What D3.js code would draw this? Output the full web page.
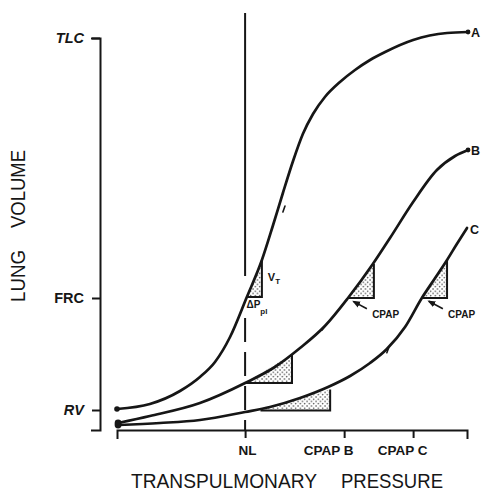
<!DOCTYPE html>
<html>
<head>
<meta charset="utf-8">
<script src="https://cdn.jsdelivr.net/npm/d3@7"></script>
<style>
  html, body { margin: 0; padding: 0; background: #fff; }
  svg { display: block; }
</style>
</head>
<body>
<div id="chart"></div>
<script>
// ---- data (pressure in arbitrary units, volume in arbitrary units, TLC = 98) ----
const pressureA = [0, 0.94, 1.8, 2.37, 2.8, 3.23, 3.71, 4.14, 4.46, 4.74, 5.03, 5.31, 5.6, 5.94, 6.37, 6.8, 7.23, 7.66, 8.46, 9.43, 10.03];
const volumeA   = [5.25, 6.5, 9.75, 13.25, 17, 23.25, 33.25, 42.5, 51.25, 59.25, 67.25, 74, 79, 83.25, 87, 90, 92.5, 94.5, 97.5, 99.25, 99.5];

const pressureB = [0.03, 0.94, 2.37, 3.66, 4.51, 5.23, 5.94, 6.6, 7.31, 7.8, 8.46, 9.14, 9.66, 10.03];
const volumeB   = [1.75, 3.5, 6.75, 11.75, 15.75, 20.5, 26, 33, 41.5, 48, 57, 65, 68.5, 70];

const pressureC = [0.03, 1.23, 2.37, 3.66, 4.37, 5.23, 6.03, 6.66, 7.23, 7.71, 8.23, 8.71, 9.09, 9.43, 9.71, 10.0];
const volumeC   = [1.25, 1.75, 2.5, 4.5, 5.75, 8, 10.75, 13.5, 16.75, 20.25, 25.75, 33, 38, 42.5, 46.5, 50.5];

const curveNames = ["A", "B", "C"];

const volumeTickValues = [5, 33, 98];
const volumeTickLabels = ["RV", "FRC", "TLC"];

const pressureTickValues = [3.66, 6.49, 8.46];
const pressureTickLabels = ["NL", "CPAP B", "CPAP C"];

// triangles: start point on curve [p, v], and end [p, v] (corner at (pEnd, vStart))
const triangleStart = [[3.71, 33.25], [6.6, 33], [8.71, 33], [3.66, 11.75], [4.1, 4.9]];
const triangleEnd   = [[4.14, 42.5], [7.34, 41.5], [9.43, 42.5], [5.0, 19.0], [6.09, 10.1]];

// NL reference line (volume extents)
const nlSolid = [104.25, 38.5];
const nlDashed = [28, 0];

// ---- layout ----
const W = 481, H = 492;
const svg = d3.select("#chart").append("svg").attr("width", W).attr("height", H);
const x = d3.scaleLinear().domain([0, 10]).range([117, 467]);
const y = d3.scaleLinear().domain([0, 98]).range([430, 38]);
const ink = "#161616";

const defs = svg.append("defs");
const pat = defs.append("pattern").attr("id", "stip")
  .attr("width", 4.5).attr("height", 4.5).attr("patternUnits", "userSpaceOnUse");
pat.append("circle").attr("cx", 1).attr("cy", 1).attr("r", 0.75).attr("fill", "#333");
pat.append("circle").attr("cx", 3.25).attr("cy", 3.25).attr("r", 0.75).attr("fill", "#333");

// triangles
const tri = triangleStart.map((s, i) => ({ s, e: triangleEnd[i] }));
svg.append("g").selectAll("path").data(tri).join("path")
  .attr("d", d => `M${x(d.s[0])},${y(d.s[1])}L${x(d.e[0])},${y(d.s[1])}L${x(d.e[0])},${y(d.e[1])}Z`)
  .attr("fill", "url(#stip)").attr("stroke", "none");
svg.append("g").selectAll("path").data(tri).join("path")
  .attr("d", d => `M${x(d.s[0])},${y(d.s[1])}L${x(d.e[0])},${y(d.s[1])}L${x(d.e[0])},${y(d.e[1])}`)
  .attr("fill", "none").attr("stroke", ink).attr("stroke-width", 2);

// NL vertical line
svg.append("line").attr("x1", x(pressureTickValues[0])).attr("x2", x(pressureTickValues[0]))
  .attr("y1", y(nlSolid[0])).attr("y2", y(nlSolid[1]))
  .attr("stroke", ink).attr("stroke-width", 2);
svg.append("line").attr("x1", x(pressureTickValues[0])).attr("x2", x(pressureTickValues[0]))
  .attr("y1", y(nlDashed[0])).attr("y2", y(nlDashed[1]))
  .attr("stroke", ink).attr("stroke-width", 2).attr("stroke-dasharray", "24,10");

// axes
const yAxis = d3.axisLeft(y).tickValues(volumeTickValues)
  .tickFormat((d, i) => volumeTickLabels[i]).tickSize(8).tickSizeOuter(9).tickPadding(8);
const gy = svg.append("g").attr("transform", "translate(100,0)").call(yAxis);
gy.selectAll("path, line").attr("stroke", ink).attr("stroke-width", 2);
gy.selectAll("text").attr("fill", ink)
  .style("font-family", "'Liberation Sans', Arial, sans-serif")
  .style("font-weight", "bold").style("font-size", "14.5px")
  .style("font-style", (d, i) => i === 1 ? "normal" : "italic");

const xAxis = d3.axisBottom(x).tickValues(pressureTickValues)
  .tickFormat((d, i) => pressureTickLabels[i]).tickSize(8).tickSizeOuter(9).tickPadding(7);
const gx = svg.append("g").attr("transform", "translate(0,430)").call(xAxis);
gx.selectAll("path, line").attr("stroke", ink).attr("stroke-width", 2);
const labelShift = [2, -16, -11];
gx.selectAll("text").attr("fill", ink)
  .attr("dx", (d, i) => labelShift[i])
  .style("font-family", "'Liberation Sans', Arial, sans-serif")
  .style("font-weight", "bold").style("font-size", "13.5px");

// curves
const series = [
  pressureA.map((p, i) => [p, volumeA[i]]),
  pressureB.map((p, i) => [p, volumeB[i]]),
  pressureC.map((p, i) => [p, volumeC[i]])
];
const line = d3.line().x(d => x(d[0])).y(d => y(d[1])).curve(d3.curveMonotoneX);
svg.append("g").selectAll("path").data(series).join("path")
  .attr("d", line).attr("fill", "none").attr("stroke", ink)
  .attr("stroke-width", 2.7).attr("stroke-linecap", "round");

// start / end dots
svg.append("g").selectAll("circle").data(series).join("circle")
  .attr("cx", d => x(d[0][0])).attr("cy", d => y(d[0][1]))
  .attr("r", (d, i) => i === 0 ? 2.8 : 3.4).attr("fill", ink);
svg.append("g").selectAll("circle").data(series.slice(0, 2)).join("circle")
  .attr("cx", d => x(d[d.length - 1][0])).attr("cy", d => y(d[d.length - 1][1]))
  .attr("r", 2.4).attr("fill", ink);

// curve labels
svg.append("g").selectAll("text").data(series).join("text")
  .attr("x", (d, i) => x(d[d.length - 1][0]) + [3, 3, 3][i])
  .attr("y", (d, i) => y(d[d.length - 1][1]) + [5, 5, 6][i])
  .text((d, i) => curveNames[i])
  .attr("fill", ink)
  .style("font-family", "'Liberation Sans', Arial, sans-serif")
  .style("font-weight", "bold").style("font-size", "12.5px");

// annotations
const fontSmall = "'Liberation Sans', Arial, sans-serif";
const vt = svg.append("text").attr("x", x(4.31)).attr("y", y(37.3)).attr("fill", ink)
  .style("font-family", fontSmall).style("font-weight", "bold").style("font-size", "11px");
vt.append("tspan").text("V");
vt.append("tspan").attr("dy", 3).style("font-size", "8px").text("T");

const dp = svg.append("text").attr("x", x(3.7)).attr("y", y(30.4)).attr("fill", ink)
  .style("font-family", fontSmall).style("font-weight", "bold").style("font-size", "10px");
dp.append("tspan").text("ΔP");
dp.append("tspan").attr("dy", 6).style("font-size", "8px").text("pl");

const cpapLabelPos = [[7.29, 28], [9.46, 28]];
const cpapArrowFrom = [[7.14, 30.3], [9.31, 30.3]];
const cpapArrowTo = [[6.76, 32.1], [8.91, 32.2]];
svg.append("g").selectAll("text").data(cpapLabelPos).join("text")
  .attr("x", d => x(d[0])).attr("y", d => y(d[1])).text("CPAP").attr("fill", ink)
  .style("font-family", fontSmall).style("font-weight", "bold").style("font-size", "10px");
defs.append("marker").attr("id", "arr").attr("viewBox", "0 0 10 10")
  .attr("refX", 8).attr("refY", 5).attr("markerWidth", 5).attr("markerHeight", 5)
  .attr("orient", "auto")
  .append("path").attr("d", "M0,1L10,5L0,9Z").attr("fill", ink);
svg.append("g").selectAll("line").data(cpapArrowFrom).join("line")
  .attr("x1", d => x(d[0])).attr("y1", d => y(d[1]))
  .attr("x2", (d, i) => x(cpapArrowTo[i][0])).attr("y2", (d, i) => y(cpapArrowTo[i][1]))
  .attr("stroke", ink).attr("stroke-width", 1.6).attr("marker-end", "url(#arr)");

// small pen marks beside the curves
const markFrom = [[4.74, 54.5], [5.86, 25], [7.71, 19.3]];
const markTo = [[4.8, 56], [5.94, 26], [7.76, 20.5]];
svg.append("g").selectAll("line").data(markFrom).join("line")
  .attr("x1", d => x(d[0])).attr("y1", d => y(d[1]))
  .attr("x2", (d, i) => x(markTo[i][0])).attr("y2", (d, i) => y(markTo[i][1]))
  .attr("stroke", ink).attr("stroke-width", 1.6).attr("stroke-linecap", "round");

// axis titles
const titleFont = "'Liberation Sans', Arial, sans-serif";
const yt = svg.append("g").attr("transform", "translate(25,0) rotate(-90)");
yt.append("text").attr("x", -302).attr("y", 0).text("LUNG")
  .attr("textLength", 52).attr("lengthAdjust", "spacingAndGlyphs")
  .attr("fill", ink).style("font-family", titleFont).style("font-size", "21px");
yt.append("text").attr("x", -228).attr("y", 0).text("VOLUME")
  .attr("textLength", 78).attr("lengthAdjust", "spacingAndGlyphs")
  .attr("fill", ink).style("font-family", titleFont).style("font-size", "21px");

svg.append("text").attr("x", 131).attr("y", 488).text("TRANSPULMONARY")
  .attr("textLength", 186).attr("lengthAdjust", "spacingAndGlyphs")
  .attr("fill", ink).style("font-family", titleFont).style("font-size", "21px");
svg.append("text").attr("x", 341).attr("y", 488).text("PRESSURE")
  .attr("textLength", 102).attr("lengthAdjust", "spacingAndGlyphs")
  .attr("fill", ink).style("font-family", titleFont).style("font-size", "21px");
</script>
</body>
</html>
